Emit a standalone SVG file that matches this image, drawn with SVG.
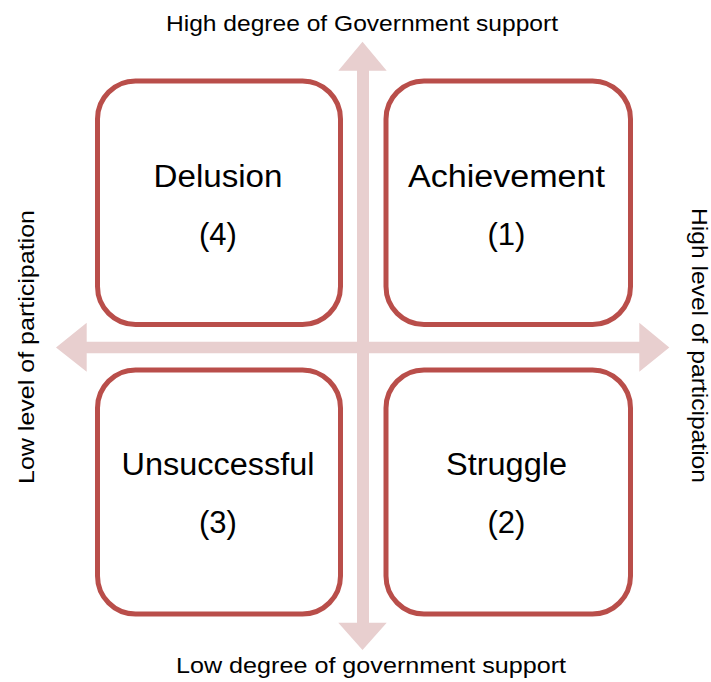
<svg xmlns="http://www.w3.org/2000/svg" width="711" height="682" viewBox="0 0 711 682">
<style>
.box{fill:#ffffff;stroke:#b94e4a;stroke-width:5}
.arrow{fill:#e8cfcf;stroke:none}
.t{font-family:"Liberation Sans",Arial,sans-serif;font-size:31px;fill:#000;text-anchor:middle}
.lbl{font-family:"Liberation Sans",Arial,sans-serif;font-size:22px;fill:#000;text-anchor:middle}
</style>
<rect width="711" height="682" fill="#ffffff"/>
<g id="connectors">
<polygon class="arrow" points="362.5,41.7 386.7,70.7 369,70.7 369,622.7 386.7,622.7 362.5,650 338.3,622.7 357,622.7 357,70.7 338.3,70.7"/>
<polygon class="arrow" points="56,347.5 86.7,322.7 86.7,341.7 639.3,341.7 639.3,322.7 669.3,347.5 639.3,371.7 639.3,353.3 86.7,353.3 86.7,371.7"/>
</g>
<g id="delusion">
<rect class="box" x="97.5" y="81" width="243" height="243.5" rx="38"/>
<text class="t" x="218" y="187" textLength="129" lengthAdjust="spacingAndGlyphs">Delusion</text>
<text class="t" x="218" y="245">(4)</text>
</g>
<g id="achievement">
<rect class="box" x="386" y="81" width="244.5" height="243.5" rx="38"/>
<text class="t" x="506.5" y="187" textLength="197" lengthAdjust="spacingAndGlyphs">Achievement</text>
<text class="t" x="506.5" y="245">(1)</text>
</g>
<g id="unsuccessful">
<rect class="box" x="97.5" y="370" width="243" height="244" rx="38"/>
<text class="t" x="218" y="475" textLength="193" lengthAdjust="spacingAndGlyphs">Unsuccessful</text>
<text class="t" x="218" y="533">(3)</text>
</g>
<g id="struggle">
<rect class="box" x="386" y="370" width="244.5" height="244" rx="38"/>
<text class="t" x="506.5" y="475" textLength="121" lengthAdjust="spacingAndGlyphs">Struggle</text>
<text class="t" x="506.5" y="533">(2)</text>
</g>
<g id="labels">
<text class="lbl" x="362" y="30.5" textLength="392" lengthAdjust="spacingAndGlyphs">High degree of Government support</text>
<text class="lbl" x="371" y="673" textLength="390" lengthAdjust="spacingAndGlyphs">Low degree of government support</text>
<text class="lbl" transform="translate(34,347) rotate(-90)" x="0" y="0" textLength="274" lengthAdjust="spacingAndGlyphs">Low level of participation</text>
<text class="lbl" transform="translate(692,345.5) rotate(90)" x="0" y="0" textLength="275" lengthAdjust="spacingAndGlyphs">High level of participation</text>
</g>
</svg>
